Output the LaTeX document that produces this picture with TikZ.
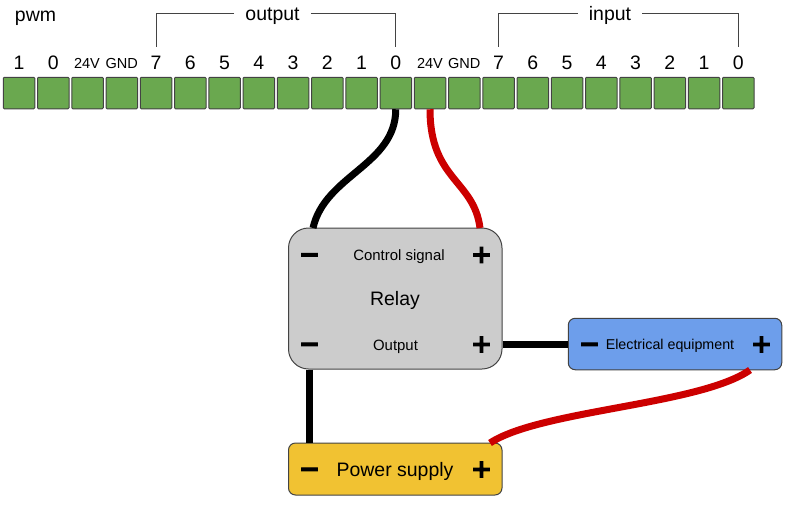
\documentclass[tikz,border=0pt]{standalone}
\usepackage{fontspec}
\setmainfont{Liberation Sans}
\newfontfamily\signfont[FakeBold=4.5]{DejaVu Sans Bold}
\newlength{\du}
\setlength{\du}{0.75pt}
\definecolor{termfill}{rgb}{0.416, 0.659, 0.310}
\definecolor{edgecolor}{rgb}{0.263, 0.263, 0.263}
\definecolor{relayfill}{rgb}{0.800, 0.800, 0.800}
\definecolor{equipfill}{rgb}{0.427, 0.620, 0.922}
\definecolor{supplyfill}{rgb}{0.945, 0.761, 0.196}
\definecolor{wirered}{rgb}{0.800, 0.000, 0.000}
\tikzset{
  term/.style={draw=edgecolor,fill=termfill,line width=1\du,rounded corners=1\du,inner sep=0pt,minimum width=31.5\du,minimum height=31.5\du},
  pinbig/.style={anchor=base,inner sep=0pt,minimum height=30\du,font=\fontsize{14.6pt}{16pt}\selectfont},
  pinsmall/.style={anchor=base,inner sep=0pt,minimum height=30\du,font=\fontsize{10.9pt}{12pt}\selectfont},
  grouplabel/.style={anchor=base,inner ysep=0pt,inner xsep=11\du,text height=13\du,text depth=0pt,font=\fontsize{14.6pt}{16pt}\selectfont},
  bracket/.style={draw=edgecolor,line width=1\du},
  unit/.style={draw=edgecolor,line width=1\du,inner sep=0pt},
  small/.style={anchor=base,inner sep=0pt,font=\fontsize{11.2pt}{13pt}\selectfont},
  large/.style={anchor=base,inner sep=0pt,font=\fontsize{14.6pt}{16pt}\selectfont},
  sign/.style={inner sep=0pt,font=\signfont\fontsize{18.5pt}{20pt}\selectfont},
  wireblack/.style={draw=black,line width=7\du},
  wirer/.style={draw=wirered,line width=7\du}
}

\begin{document}
\begin{tikzpicture}
\pgftransformxscale{1.000000}
\pgftransformyscale{-1.000000}
\useasboundingbox (0\du,0\du) rectangle (789\du,504\du);
% terminal strip
\node[term] (pwmb) at (19.00\du,93\du){};
\node[term] (pwma) at (53.25\du,93\du){};
\node[term] (vleft) at (87.50\du,93\du){};
\node[term] (gleft) at (121.75\du,93\du){};
\node[term] (outh) at (156.00\du,93\du){};
\node[term] (outg) at (190.25\du,93\du){};
\node[term] (outf) at (224.50\du,93\du){};
\node[term] (oute) at (258.75\du,93\du){};
\node[term] (outd) at (293.00\du,93\du){};
\node[term] (outc) at (327.25\du,93\du){};
\node[term] (outb) at (361.50\du,93\du){};
\node[term] (outa) at (395.75\du,93\du){};
\node[term] (vright) at (430.00\du,93\du){};
\node[term] (gright) at (464.25\du,93\du){};
\node[term] (inh) at (498.50\du,93\du){};
\node[term] (ing) at (532.75\du,93\du){};
\node[term] (inf) at (567.00\du,93\du){};
\node[term] (ine) at (601.25\du,93\du){};
\node[term] (ind) at (635.50\du,93\du){};
\node[term] (inc) at (669.75\du,93\du){};
\node[term] (inb) at (704.00\du,93\du){};
\node[term] (ina) at (738.25\du,93\du){};
% pin numbers
\node[pinbig] (lpwmb) at (19.00\du,69\du){1};
\node[pinbig] (lpwma) at (53.25\du,69\du){0};
\node[pinsmall] (lvleft) at (87.00\du,68.5\du){24V};
\node[pinsmall] (lgleft) at (121.75\du,68.5\du){GND};
\node[pinbig] (louth) at (156.00\du,69\du){7};
\node[pinbig] (loutg) at (190.25\du,69\du){6};
\node[pinbig] (loutf) at (224.50\du,69\du){5};
\node[pinbig] (loute) at (258.75\du,69\du){4};
\node[pinbig] (loutd) at (293.00\du,69\du){3};
\node[pinbig] (loutc) at (327.25\du,69\du){2};
\node[pinbig] (loutb) at (361.50\du,69\du){1};
\node[pinbig] (louta) at (395.75\du,69\du){0};
\node[pinsmall] (lvright) at (430.00\du,68.5\du){24V};
\node[pinsmall] (lgright) at (464.25\du,68.5\du){GND};
\node[pinbig] (linh) at (498.50\du,69\du){7};
\node[pinbig] (ling) at (532.75\du,69\du){6};
\node[pinbig] (linf) at (567.00\du,69\du){5};
\node[pinbig] (line) at (601.25\du,69\du){4};
\node[pinbig] (lind) at (635.50\du,69\du){3};
\node[pinbig] (linc) at (669.75\du,69\du){2};
\node[pinbig] (linb) at (704.00\du,69\du){1};
\node[pinbig] (lina) at (738.25\du,69\du){0};
% group labels
\node[large] (pwm) at (35.5\du,21\du){pwm};
\node[grouplabel] (output) at (272.5\du,20\du){output};
\node[grouplabel] (input) at (610\du,20\du){input};
\draw[bracket] (output.west) -| (louth.north);
\draw[bracket] (output.east) -| (louta.north);
\draw[bracket] (input.west) -| (linh.north);
\draw[bracket] (input.east) -| (lina.north);
% relay
\node[unit,fill=relayfill,rounded corners=20\du,minimum width=213.5\du,minimum height=141\du] (relay) at (395.25\du,298.5\du){};
\node[sign] (cminus) at (309.5\du,258\du){\char"2212};
\node[sign] (cplus) at (481.5\du,255\du){+};
\node[sign] (ominus) at (309.5\du,347.5\du){\char"2212};
\node[sign] (oplus) at (481.5\du,344.5\du){+};
\node[small] (control) at (399\du,260.5\du){Control signal};
\node[large] (relayname) at (395\du,305\du){Relay};
\node[small] (outputname) at (395.5\du,350\du){Output};
% electrical equipment
\node[unit,fill=equipfill,rounded corners=7\du,minimum width=213.5\du,minimum height=51.5\du] (equip) at (675\du,344\du){};
\node[sign] (eminus) at (589.5\du,347.5\du){\char"2212};
\node[sign] (eplus) at (761.5\du,344.5\du){+};
\node[anchor=base,inner sep=0pt,font=\fontsize{10.7pt}{12pt}\selectfont] (equipname) at (670\du,349.3\du){Electrical equipment};
% power supply
\node[unit,fill=supplyfill,rounded corners=7\du,minimum width=213.5\du,minimum height=52\du] (supply) at (395.25\du,469\du){};
\node[sign] (sminus) at (309.5\du,472.5\du){\char"2212};
\node[sign] (splus) at (481.5\du,469.5\du){+};
\node[large] (supplyname) at (395\du,476\du){Power supply};
% wires
\coordinate (relaytl) at (313\du,228\du);
\coordinate (relaytr) at (480\du,228\du);
\coordinate (equipb) at (750\du,370\du);
\coordinate (supplyt) at (490\du,443\du);
\draw[wireblack] (outa.south) .. controls (395.75\du,165\du) and (325\du,175\du) .. (relaytl);
\draw[wirer] (vright.south) .. controls (430\du,180\du) and (474\du,180\du) .. (relaytr);
\draw[wireblack] (relay.south -| ominus.center) -- (supply.north -| ominus.center);
\draw[wireblack] (relay.east |- equip.west) -- (equip.west);
\draw[wirer] (equipb) .. controls (700\du,405\du) and (540\du,410\du) .. (supplyt);
\end{tikzpicture}
\end{document}
